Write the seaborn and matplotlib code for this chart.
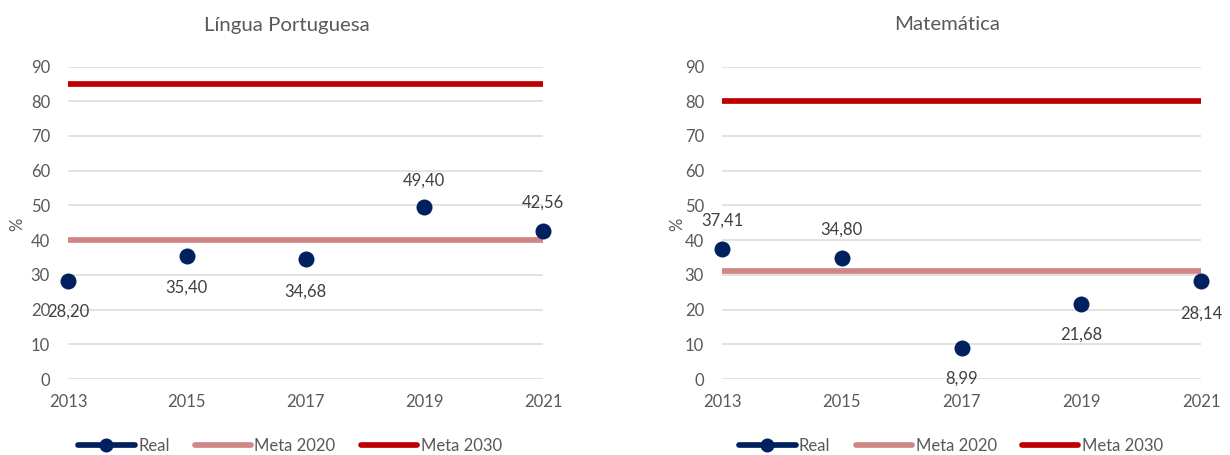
import matplotlib
matplotlib.use("Agg")
import matplotlib.pyplot as plt
from matplotlib.lines import Line2D
import pandas as pd
import seaborn as sns

years = [2013, 2015, 2017, 2019, 2021]
titles = ["Língua Portuguesa", "Matemática"]
real_lp = [28.20, 35.40, 34.68, 49.40, 42.56]
real_mat = [37.41, 34.80, 8.99, 21.68, 28.14]
meta2020_lp = [40, 40, 40, 40, 40]
meta2030_lp = [85, 85, 85, 85, 85]
meta2020_mat = [31, 31, 31, 31, 31]
meta2030_mat = [80, 80, 80, 80, 80]
yticks = list(range(0, 100, 10))

sns.set_theme(style="white")
plt.rcParams["font.family"] = ["Lato", "DejaVu Sans"]

W, H = 1230, 455
DPI = 100
PX = 72 / DPI
NAVY, PINK, RED = "#002060", "#D18686", "#C00000"
GREY, TXT, LBL = "#D9D9D9", "#595959", "#404040"
LW = 5.7 * PX

fig = plt.figure(figsize=(W / DPI, H / DPI), dpi=DPI, facecolor="white")


def make_axes(x0, x1, y90=66.5, y0=379):
    return fig.add_axes([x0 / W, 1 - y0 / H, (x1 - x0) / W, (y0 - y90) / H])


panels = [
    (make_axes(68, 543), real_lp, meta2020_lp, meta2030_lp, [31, 32, 33, -27, -29], 287, 17, 78),
    (make_axes(722, 1201), real_mat, meta2020_mat, meta2030_mat, [-28, -29, 31, 31, 32], 947, 677, 739),
]

for (ax, real, m20, m30, offs, tx, ylx, legx), title in zip(panels, titles):
    df = pd.DataFrame({"Ano": years, "Real": real, "Meta 2020": m20, "Meta 2030": m30})
    sns.lineplot(data=df, x="Ano", y="Meta 2020", ax=ax, color=PINK, lw=LW,
                 solid_capstyle="butt", clip_on=False, zorder=3)
    sns.lineplot(data=df, x="Ano", y="Meta 2030", ax=ax, color=RED, lw=LW,
                 solid_capstyle="butt", clip_on=False, zorder=3)
    sns.lineplot(data=df, x="Ano", y="Real", ax=ax, color=NAVY, lw=0, marker="o",
                 markersize=16 * PX, markeredgewidth=0, clip_on=False, zorder=4)
    ax.set_xlim(years[0], years[-1])
    ax.set_ylim(0, 90)
    ax.set_xticks(years)
    ax.set_yticks(yticks)
    ax.set_xlabel("")
    ax.set_ylabel("")
    ax.grid(axis="y", color=GREY, lw=1.5 * PX)
    ax.grid(axis="x", visible=False)
    ax.set_axisbelow(True)
    for s in ax.spines.values():
        s.set_visible(False)
    ax.tick_params(axis="y", length=0, pad=18 * PX, labelsize=12, labelcolor=TXT)
    ax.tick_params(axis="x", length=0, pad=15 * PX, labelsize=12, labelcolor=TXT)
    for x, y, off in zip(years, real, offs):
        ax.annotate(f"{y:.2f}".replace(".", ","), (x, y), xytext=(0, -off * PX),
                    textcoords="offset points", ha="center", va="center",
                    fontsize=12, color=LBL, annotation_clip=False, zorder=5)
    fig.text(tx / W, 1 - 25 / H, title, ha="center", va="center", fontsize=14.7, color=TXT)
    fig.text(ylx / W, 1 - 224 / H, "%", rotation=90, ha="center", va="center", fontsize=12, color=TXT)

    real_h = Line2D([], [], color=NAVY, lw=LW, marker="o", markersize=14 * PX,
                    markeredgewidth=0, solid_capstyle="round")
    hs = [real_h] + [Line2D([], [], color=c, lw=LW, solid_capstyle="round") for c in (PINK, RED)]
    ax.legend(hs, ["Real", "Meta 2020", "Meta 2030"], loc="center left",
              bbox_to_anchor=(legx / W, 1 - 446 / H), bbox_transform=fig.transFigure,
              ncol=3, frameon=False, fontsize=12, labelcolor=TXT, borderpad=0, borderaxespad=0,
              handlelength=3.4, handletextpad=0.2, columnspacing=1.5)

fig.savefig("out.png", dpi=DPI)
